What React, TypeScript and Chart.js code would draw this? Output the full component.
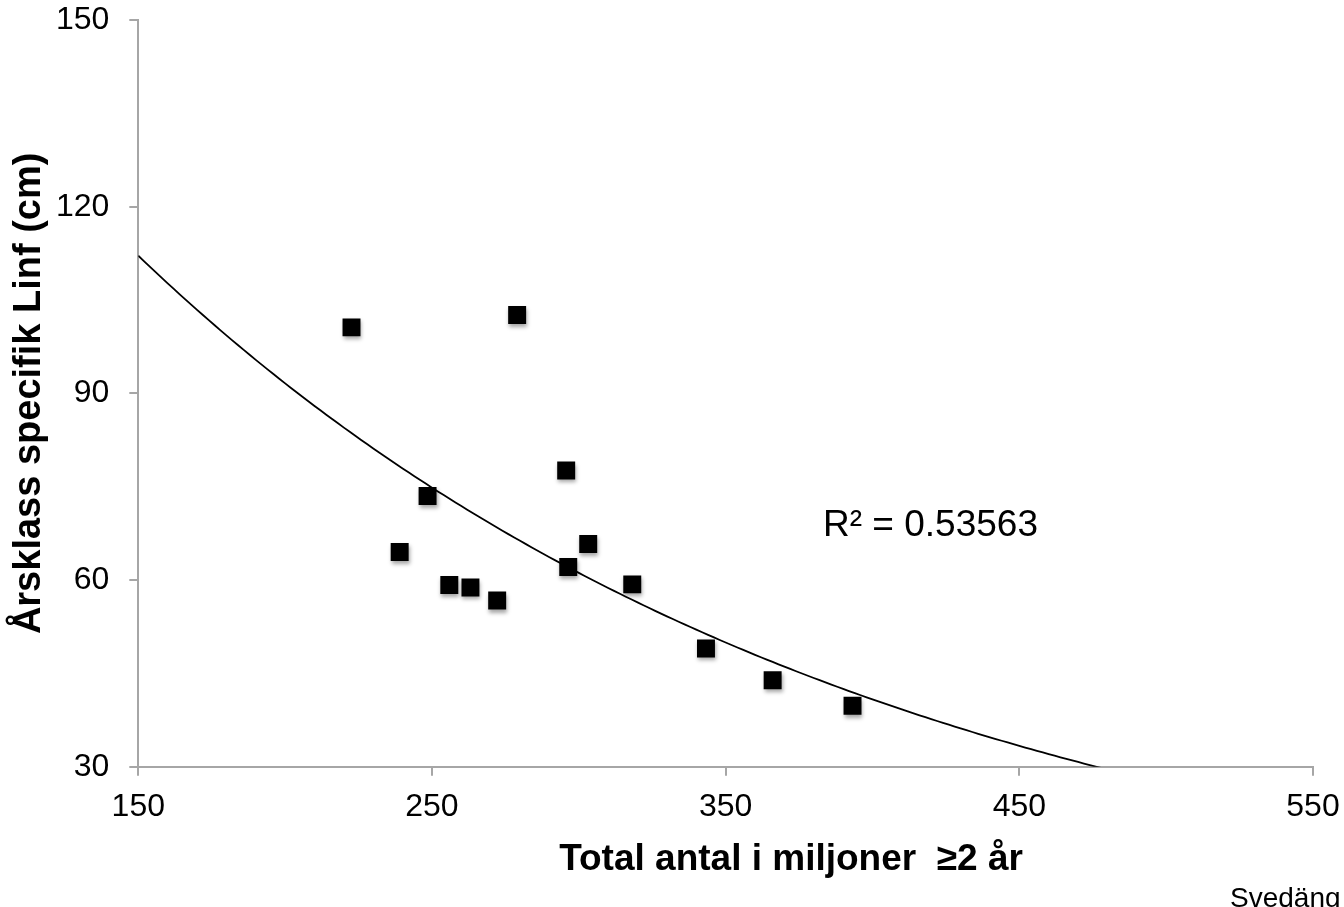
import React, { useEffect, useRef } from "react";
import { Chart, registerables } from "chart.js";

Chart.register(...registerables);

// ---- Data ----
const totalAntal = [222.6, 279.0, 248.5, 239.0, 255.9, 263.1, 272.2, 295.7, 296.4, 303.2, 318.2, 343.3, 366.0, 393.2];
const linf = [100.6, 102.6, 73.5, 64.5, 59.2, 58.8, 56.7, 77.6, 62.1, 65.8, 59.3, 49.0, 43.9, 39.8];

const xTicks = [150, 250, 350, 450, 550];
const yTicks = [30, 60, 90, 120, 150];

const xTitle = "Total antal i miljoner  \u22652 år";
const yTitle = "Årsklass specifik Linf (cm)";
const r2Label = "R² = 0.53563";
const sourceLabel = "Svedäng";

const FONT = "'Liberation Sans', Arial, sans-serif";

// Exponential trendline y = a*exp(b*x), least squares on ln(y)
function expFit(xs: number[], ys: number[]) {
  const n = xs.length;
  const ly = ys.map((v) => Math.log(v));
  const mx = xs.reduce((s, v) => s + v, 0) / n;
  const my = ly.reduce((s, v) => s + v, 0) / n;
  let sxy = 0;
  let sxx = 0;
  for (let i = 0; i < n; i++) {
    sxy += (xs[i] - mx) * (ly[i] - my);
    sxx += (xs[i] - mx) * (xs[i] - mx);
  }
  const b = sxy / sxx;
  const a = Math.exp(my - b * mx);
  return { a, b };
}

export default function App() {
  const ref = useRef<HTMLCanvasElement | null>(null);

  useEffect(() => {
    if (!ref.current) return;
    const { a, b } = expFit(totalAntal, linf);
    const trend: { x: number; y: number }[] = [];
    for (let x = xTicks[0]; x <= xTicks[xTicks.length - 1]; x += 2) {
      trend.push({ x, y: a * Math.exp(b * x) });
    }

    const textPlugin = {
      id: "texts",
      beforeDatasetDraw(chart: any, args: any) {
        if (args.index === 0) {
          const ctx = chart.ctx;
          ctx.save();
          ctx.shadowColor = "rgba(0,0,0,0.35)";
          ctx.shadowBlur = 4;
          ctx.shadowOffsetX = 1;
          ctx.shadowOffsetY = 3;
        }
      },
      afterDatasetDraw(chart: any, args: any) {
        if (args.index === 0) chart.ctx.restore();
      },
      afterDraw(chart: any) {
        const ctx = chart.ctx;
        const area = chart.chartArea;
        ctx.save();
        ctx.fillStyle = "#000";
        // R² label
        ctx.font = `37px ${FONT}`;
        ctx.textAlign = "left";
        ctx.textBaseline = "alphabetic";
        ctx.fillText(r2Label, 823, 536);
        // x title
        ctx.font = `bold 37px ${FONT}`;
        ctx.textAlign = "center";
        ctx.textBaseline = "middle";
        ctx.fillText(xTitle, 791, 860);
        // y title
        ctx.font = `bold 38px ${FONT}`;
        ctx.save();
        ctx.translate(30, (area.top + area.bottom) / 2);
        ctx.rotate(-Math.PI / 2);
        ctx.fillText(yTitle, 0, 0);
        ctx.restore();
        // source
        ctx.font = `28px ${FONT}`;
        ctx.textAlign = "left";
        ctx.textBaseline = "alphabetic";
        ctx.fillText(sourceLabel, 1230, 907);
        ctx.restore();
      },
    };

    const chart = new Chart(ref.current, {
      type: "scatter",
      data: {
        datasets: [
          {
            label: "Linf",
            data: totalAntal.map((x, i) => ({ x, y: linf[i] })),
            backgroundColor: "#000",
            borderColor: "#000",
            pointStyle: "rect",
            pointRadius: 12.7,
            pointBorderWidth: 0,
            order: 0,
          },
          {
            type: "line",
            label: "Trend",
            data: trend,
            borderColor: "#000",
            borderWidth: 1.8,
            pointRadius: 0,
            fill: false,
            tension: 0,
            order: 1,
          } as any,
        ],
      },
      options: {
        responsive: false,
        animation: false,
        layout: { padding: { left: 0, top: 20, right: 31, bottom: 0 } },
        plugins: {
          legend: { display: false },
          tooltip: { enabled: false },
        },
        scales: {
          x: {
            type: "linear",
            min: xTicks[0],
            max: xTicks[xTicks.length - 1],
            afterFit: (s: any) => {
              s.height = 140.3;
              s.paddingLeft = 0;
              s.paddingRight = 0;
              s.paddingTop = 0;
              s.paddingBottom = 0;
            },
            afterBuildTicks: (s: any) => {
              s.ticks = xTicks.map((v) => ({ value: v }));
            },
            ticks: {
              font: { family: FONT, size: 32 },
              color: "#000",
              padding: 12,
              maxRotation: 0,
            },
            grid: {
              drawOnChartArea: false,
              drawTicks: true,
              tickLength: 9,
              color: "#a6a6a6",
              lineWidth: 2,
            },
            border: { display: true, color: "#a6a6a6", width: 2 },
          },
          y: {
            type: "linear",
            min: yTicks[0],
            max: yTicks[yTicks.length - 1],
            afterFit: (s: any) => {
              s.width = 138.3;
              s.paddingLeft = 0;
              s.paddingRight = 0;
              s.paddingTop = 0;
              s.paddingBottom = 0;
            },
            afterBuildTicks: (s: any) => {
              s.ticks = yTicks.map((v) => ({ value: v }));
            },
            ticks: {
              font: { family: FONT, size: 32 },
              color: "#000",
              padding: 20,
            },
            grid: {
              drawOnChartArea: false,
              drawTicks: true,
              tickLength: 9,
              color: "#a6a6a6",
              lineWidth: 2,
            },
            border: { display: true, color: "#a6a6a6", width: 2 },
          },
        },
      },
      plugins: [textPlugin],
    });
    return () => chart.destroy();
  }, []);

  return (
    <div style={{ position: "absolute", left: 0, top: 0, width: 1344, height: 907, background: "#fff" }}>
      <canvas ref={ref} width={1344} height={907} style={{ width: 1344, height: 907, display: "block" }} />
    </div>
  );
}
